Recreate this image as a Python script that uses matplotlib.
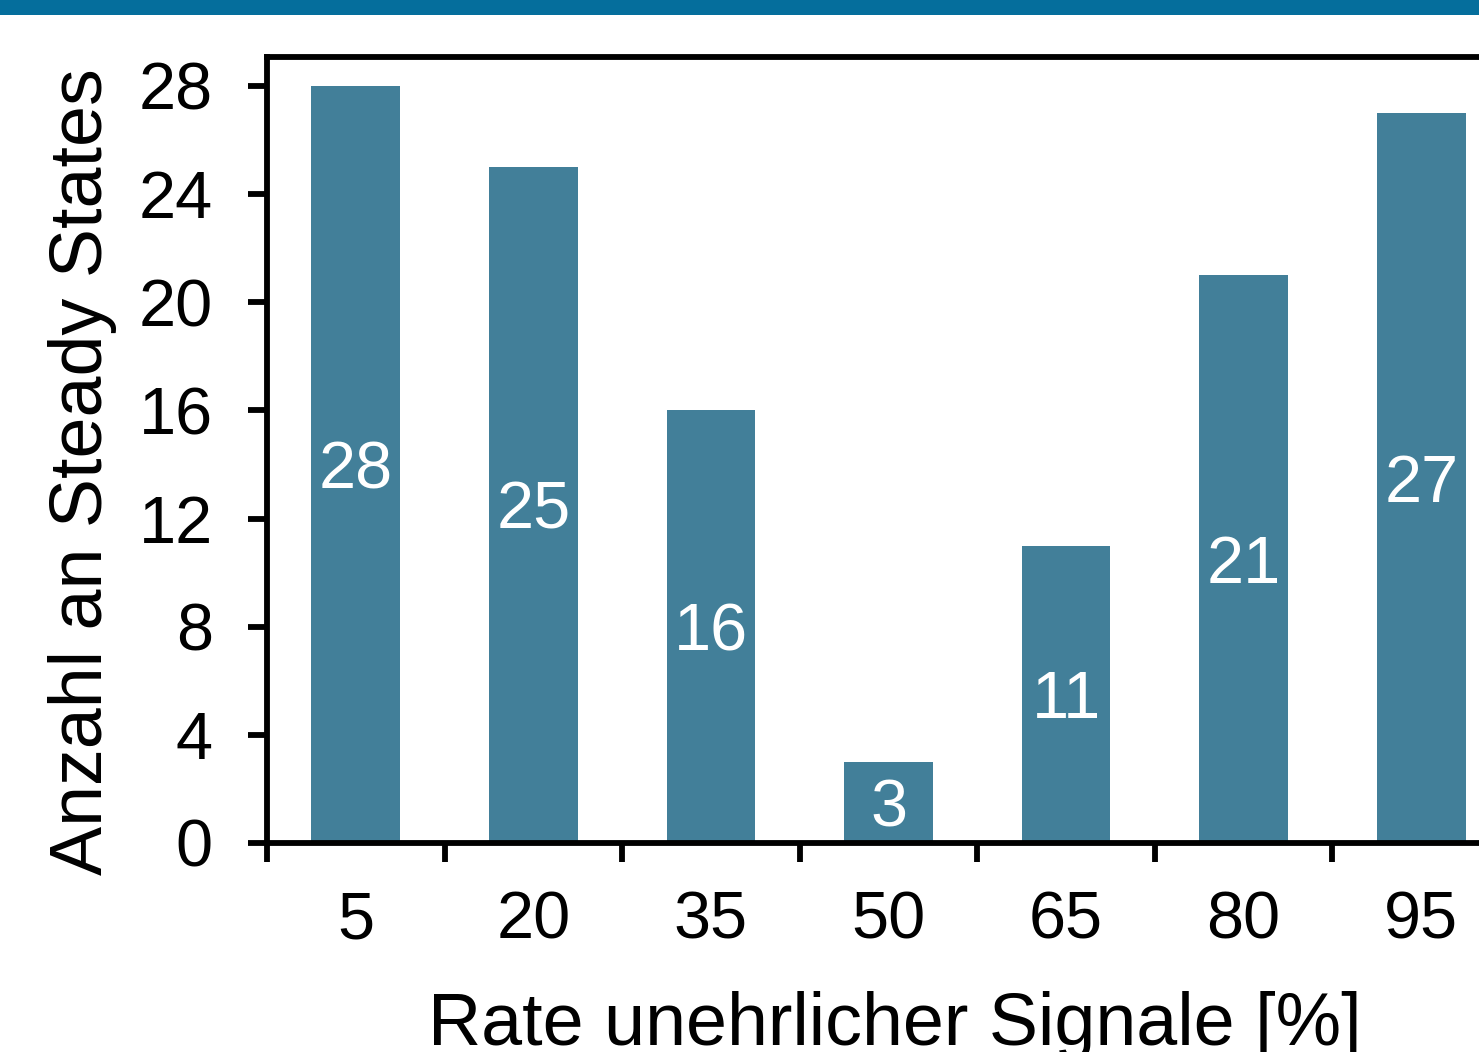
"""Balkendiagramm: Anzahl an Steady States je Rate unehrlicher Signale."""

import matplotlib

matplotlib.use("Agg")
from matplotlib import pyplot as plt
from matplotlib.patches import Rectangle

# Daten
rates = ["5", "20", "35", "50", "65", "80", "95"]
steady_states = [28, 25, 16, 3, 11, 21, 27]
y_ticks = [0, 4, 8, 12, 16, 20, 24, 28]

BAR_COLOR = "#427F99"
BAND_COLOR = "#056E9C"
TICK_FONT = 48
LABEL_FONT = 53
LW = 4.2

plt.rcParams["font.family"] = ["Liberation Sans", "DejaVu Sans"]

fig = plt.figure(figsize=(14.79, 10.52), dpi=100, facecolor="white")

# Farbband am oberen Rand
fig.patches.append(
    Rectangle((0, 1 - 15 / 1052), 1, 15 / 1052, transform=fig.transFigure,
              facecolor=BAND_COLOR, edgecolor="none")
)

ax = fig.add_axes([0.1805, 0.1987, 0.8405, 0.7471])

x = list(range(len(rates)))
ax.bar(x, steady_states, width=0.5, color=BAR_COLOR, edgecolor="none", zorder=2)

# Werte mittig in die Balken (Ziffern optisch zentriert)
cap_half = 0.716 * TICK_FONT / 2
for xi, val in zip(x, steady_states):
    ax.annotate(str(val), (xi, val / 2), xytext=(0, -cap_half),
                textcoords="offset points", ha="center", va="baseline",
                color="white", fontsize=TICK_FONT, zorder=3)

ax.set_xlim(-0.5, len(rates) - 0.5)
ax.set_ylim(0, 29.07)

# Striche an den Kategoriegrenzen, Beschriftung in der Mitte
ax.set_xticks([i - 0.5 for i in range(len(rates))])
ax.set_xticklabels([])
ax.set_xticks(x, minor=True)
ax.set_xticklabels(rates, minor=True)
ax.tick_params(axis="x", which="minor", length=0, pad=34, labelsize=TICK_FONT)
ax.tick_params(axis="x", which="major", length=14, width=LW, direction="out")

ax.set_yticks(y_ticks)
ax.tick_params(axis="y", length=14, width=LW, direction="out", pad=25,
               labelsize=TICK_FONT)

for side in ["left", "bottom", "top", "right"]:
    ax.spines[side].set_linewidth(LW)

ax.set_ylabel("Anzahl an Steady States", fontsize=LABEL_FONT, va="baseline")
ax.yaxis.set_label_coords(-0.1327, 0.473)
# die Achsenbeschriftung reicht wie im Layout über den unteren Rand hinaus
ax.set_xlabel("Rate unehrlicher Signale [%]", fontsize=LABEL_FONT, va="baseline")
ax.xaxis.set_label_coords(0.505, -0.257)

fig.savefig("out.png", dpi=100, facecolor=fig.get_facecolor())
plt.close(fig)
